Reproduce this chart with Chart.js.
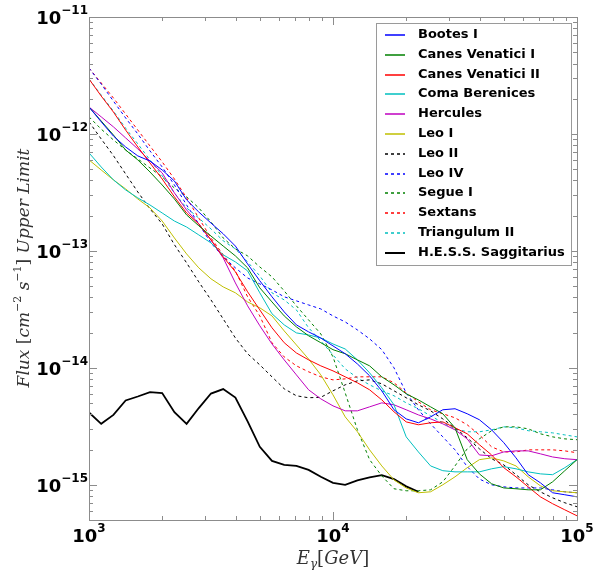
<!DOCTYPE html>
<html>
<head>
<meta charset="utf-8">
<script src="https://cdn.jsdelivr.net/npm/chart.js@4.4.0/dist/chart.umd.min.js"></script>
<style>
body { margin: 0; background: #fff; }
#wrap { width: 594px; height: 570px; }
</style>
</head>
<body>
<div id="wrap"><canvas id="fluxChart" width="594" height="570"></canvas></div>
<script>
// energy grid (GeV), 20 points per decade
const energies = [1000, 1122, 1259, 1413, 1585, 1778, 1995, 2239, 2512, 2818,
  3162, 3548, 3981, 4467, 5012, 5623, 6310, 7079, 7943, 8913,
  10000, 11220, 12589, 14125, 15849, 17783, 19953, 22387, 25119, 28184,
  31623, 35481, 39811, 44668, 50119, 56234, 63096, 70795, 79433, 89125, 100000];

const bootesI = [1.70e-12, 1.27e-12, 9.6e-13, 7.74e-13, 6.49e-13, 5.87e-13, 4.92e-13, 3.96e-13, 2.73e-13, 2.15e-13,
  1.73e-13, 1.40e-13, 1.10e-13, 7.74e-14, 5.55e-14, 4.05e-14, 3.01e-14, 2.33e-14, 2.03e-14, 1.80e-14,
  1.54e-14, 1.32e-14, 1.08e-14, 8.55e-15, 6.35e-15, 4.38e-15, 3.66e-15, 3.39e-15, 3.81e-15, 4.38e-15,
  4.47e-15, 4.05e-15, 3.60e-15, 2.95e-15, 2.29e-15, 1.70e-15, 1.22e-15, 1.04e-15, 8.55e-16, 8.22e-16, 7.89e-16];
const canesVenaticiI = [1.70e-12, 1.29e-12, 9.8e-13, 7.29e-13, 6.0e-13, 4.73e-13, 3.66e-13, 2.78e-13, 2.03e-13, 1.64e-13,
  1.34e-13, 1.10e-13, 9.06e-14, 7.16e-14, 4.83e-14, 3.66e-14, 2.78e-14, 2.24e-14, 1.88e-14, 1.64e-14,
  1.43e-14, 1.32e-14, 1.17e-14, 1.04e-14, 8.38e-15, 7.16e-15, 6.0e-15, 5.32e-15, 4.64e-15, 4.05e-15,
  3.07e-15, 1.64e-15, 1.24e-15, 1.02e-15, 9.4e-16, 9.25e-16, 9.06e-16, 9.06e-16, 1.06e-15, 1.32e-15, 1.64e-15];
const canesVenaticiII = [2.95e-12, 2.11e-12, 1.54e-12, 1.08e-12, 7.74e-13, 5.65e-13, 4.12e-13, 2.90e-13, 2.11e-13, 1.70e-13,
  1.24e-13, 8.89e-14, 6.62e-14, 4.47e-14, 3.13e-14, 2.20e-14, 1.64e-14, 1.34e-14, 1.17e-14, 1.04e-14,
  9.42e-15, 8.38e-15, 7.45e-15, 6.49e-15, 5.32e-15, 4.21e-15, 3.45e-15, 3.26e-15, 3.39e-15, 3.45e-15,
  3.07e-15, 2.73e-15, 2.20e-15, 1.80e-15, 1.40e-15, 1.17e-15, 9.6e-16, 7.89e-16, 6.89e-16, 6.11e-16, 5.43e-16];
const comaBerenices = [6.89e-13, 5.22e-13, 4.05e-13, 3.32e-13, 2.84e-13, 2.47e-13, 2.11e-13, 1.80e-13, 1.60e-13, 1.37e-13,
  1.17e-13, 9.25e-14, 8.05e-14, 6.75e-14, 4.38e-14, 2.90e-14, 2.33e-14, 1.99e-14, 1.91e-14, 1.80e-14,
  1.60e-14, 1.45e-14, 1.17e-14, 9.06e-15, 6.75e-15, 4.83e-15, 2.57e-15, 1.91e-15, 1.45e-15, 1.32e-15,
  1.29e-15, 1.29e-15, 1.29e-15, 1.37e-15, 1.43e-15, 1.37e-15, 1.29e-15, 1.24e-15, 1.22e-15, 1.40e-15, 1.64e-15];
const hercules = [1.70e-12, 1.40e-12, 1.15e-12, 9.25e-13, 7.45e-13, 5.87e-13, 4.64e-13, 3.13e-13, 2.24e-13, 1.70e-13,
  1.24e-13, 8.71e-14, 5.32e-14, 3.39e-14, 2.29e-14, 1.60e-14, 1.17e-14, 8.71e-15, 6.49e-15, 5.43e-15,
  4.73e-15, 4.29e-15, 4.29e-15, 4.64e-15, 5.02e-15, 4.83e-15, 4.38e-15, 3.96e-15, 3.66e-15, 3.32e-15,
  2.95e-15, 2.47e-15, 1.80e-15, 1.77e-15, 1.91e-15, 1.95e-15, 1.95e-15, 1.84e-15, 1.73e-15, 1.67e-15, 1.64e-15];
const leoI = [6.0e-13, 4.92e-13, 4.05e-13, 3.39e-13, 2.78e-13, 2.33e-13, 1.80e-13, 1.29e-13, 9.42e-14, 7.16e-14,
  5.77e-14, 4.92e-14, 4.38e-14, 3.66e-14, 3.26e-14, 2.78e-14, 2.07e-14, 1.57e-14, 1.19e-14, 8.71e-15,
  5.87e-15, 3.81e-15, 2.84e-15, 1.99e-15, 1.45e-15, 1.10e-15, 9.4e-16, 8.55e-16, 8.71e-16, 1.0e-15,
  1.17e-15, 1.40e-15, 1.64e-15, 1.70e-15, 1.60e-15, 1.45e-15, 1.17e-15, 9.8e-16, 8.89e-16, 8.71e-16, 8.55e-16];
const leoII = [1.27e-12, 9.06e-13, 6.53e-13, 4.55e-13, 3.19e-13, 2.29e-13, 1.70e-13, 1.13e-13, 7.9e-14, 5.43e-14,
  3.81e-14, 2.62e-14, 1.80e-14, 1.32e-14, 1.06e-14, 8.38e-15, 6.62e-15, 5.77e-15, 5.55e-15, 5.6e-15,
  6.36e-15, 7.16e-15, 7.74e-15, 7.89e-15, 7.3e-15, 6.36e-15, 5.55e-15, 4.83e-15, 4.29e-15, 3.66e-15,
  3.07e-15, 2.52e-15, 2.03e-15, 1.67e-15, 1.48e-15, 1.22e-15, 1.0e-15, 8.7e-16, 7.74e-16, 7.02e-16, 6.49e-16];
const leoIV = [3.66e-12, 2.67e-12, 1.91e-12, 1.37e-12, 1.0e-12, 7.16e-13, 5.22e-13, 3.66e-13, 2.47e-13, 1.70e-13,
  1.17e-13, 8.89e-14, 7.16e-14, 5.87e-14, 5.22e-14, 4.64e-14, 4.05e-14, 3.74e-14, 3.45e-14, 3.19e-14,
  2.78e-14, 2.47e-14, 2.11e-14, 1.77e-14, 1.43e-14, 1.0e-14, 6.11e-15, 4.38e-15, 3.32e-15, 2.57e-15,
  1.99e-15, 1.43e-15, 1.12e-15, 1.0e-15, 9.6e-16, 9.4e-16, 9.4e-16, 9.4e-16, 9.06e-16, 8.71e-16, 8.55e-16];
const segueI = [1.40e-12, 1.10e-12, 8.89e-13, 7.29e-13, 6.11e-13, 5.12e-13, 4.29e-13, 3.45e-13, 2.90e-13, 2.33e-13,
  1.77e-13, 1.29e-13, 1.04e-13, 9.06e-14, 7.29e-14, 6.0e-14, 4.55e-14, 3.39e-14, 2.57e-14, 1.95e-14,
  1.24e-14, 6.11e-15, 2.95e-15, 1.64e-15, 1.19e-15, 9.25e-16, 8.89e-16, 8.89e-16, 9.06e-16, 1.06e-15,
  1.45e-15, 2.03e-15, 2.47e-15, 2.90e-15, 3.13e-15, 3.13e-15, 3.01e-15, 2.73e-15, 2.57e-15, 2.47e-15, 2.43e-15];
const sextans = [3.66e-12, 2.73e-12, 2.03e-12, 1.48e-12, 1.08e-12, 7.89e-13, 5.77e-13, 4.12e-13, 2.84e-13, 1.91e-13,
  1.29e-13, 9.25e-14, 6.75e-14, 4.05e-14, 2.78e-14, 1.64e-14, 1.24e-14, 1.04e-14, 9.25e-15, 8.38e-15,
  7.89e-15, 8.05e-15, 8.38e-15, 8.38e-15, 8.38e-15, 7.45e-15, 6.11e-15, 5.12e-15, 4.38e-15, 4.05e-15,
  3.74e-15, 3.26e-15, 2.67e-15, 2.11e-15, 1.91e-15, 1.91e-15, 1.99e-15, 1.99e-15, 1.99e-15, 1.95e-15, 1.88e-15];
const triangulumII = [2.95e-12, 2.15e-12, 1.57e-12, 1.12e-12, 8.22e-13, 6.0e-13, 4.38e-13, 3.13e-13, 2.33e-13, 1.91e-13,
  1.54e-13, 1.22e-13, 1.04e-13, 8.05e-14, 6.11e-14, 4.38e-14, 3.81e-14, 3.13e-14, 2.20e-14, 1.70e-14,
  1.29e-14, 9.8e-15, 8.22e-15, 7.16e-15, 6.35e-15, 5.77e-15, 5.02e-15, 4.47e-15, 3.89e-15, 3.39e-15,
  3.01e-15, 2.84e-15, 2.84e-15, 2.95e-15, 3.13e-15, 3.07e-15, 2.90e-15, 2.84e-15, 2.78e-15, 2.67e-15, 2.57e-15];
// H.E.S.S. curve stops near 2.2e4 GeV
const hessSagittarius = [4.15e-15, 3.32e-15, 3.96e-15, 5.26e-15, 5.69e-15, 6.2e-15, 6.08e-15, 4.18e-15, 3.32e-15, 4.53e-15,
  6.03e-15, 6.58e-15, 5.57e-15, 3.48e-15, 2.11e-15, 1.60e-15, 1.48e-15, 1.45e-15, 1.34e-15, 1.17e-15,
  1.04e-15, 1.0e-15, 1.09e-15, 1.16e-15, 1.21e-15, 1.12e-15, 9.7e-16, 8.7e-16];

const seriesNames = ['Bootes I', 'Canes Venatici I', 'Canes Venatici II', 'Coma Berenices', 'Hercules', 'Leo I',
  'Leo II', 'Leo IV', 'Segue I', 'Sextans', 'Triangulum II', 'H.E.S.S. Saggitarius'];
const seriesValues = [bootesI, canesVenaticiI, canesVenaticiII, comaBerenices, hercules, leoI,
  leoII, leoIV, segueI, sextans, triangulumII, hessSagittarius];
const seriesColors = ['#0000ff', '#008000', '#ff0000', '#00bfbf', '#bf00bf', '#bfbf00',
  '#000000', '#0000ff', '#008000', '#ff0000', '#00bfbf', '#000000'];
const seriesDashed = [false, false, false, false, false, false, true, true, true, true, true, false];

const xTicks = [1e3, 1e4, 1e5];
const xTickExp = ['3', '4', '5'];
const yTicks = [1e-15, 1e-14, 1e-13, 1e-12, 1e-11];
const yTickExp = ['-15', '-14', '-13', '-12', '-11'];

const datasets = seriesNames.map((name, i) => ({
    label: name,
    data: seriesValues[i].map((v, j) => ({ x: energies[j], y: v })),
    borderColor: seriesColors[i],
    borderWidth: i === 11 ? 1.8 : 1,
    borderDash: seriesDashed[i] ? [3, 3] : [],
    pointRadius: 0,
    fill: false,
    tension: 0
}));

const frameColor = '#8c8c8c';

function drawPowerLabel(ctx, exp, x, y, align) {
    ctx.font = 'bold 18px "DejaVu Sans"';
    const wBase = ctx.measureText('10').width;
    ctx.font = 'bold 12px "DejaVu Sans"';
    const wExp = ctx.measureText(exp).width;
    let left = x;
    if (align === 'right') left = x - wBase - wExp;
    if (align === 'center') left = x - (wBase + wExp) / 2;
    ctx.textAlign = 'left';
    ctx.textBaseline = 'alphabetic';
    ctx.font = 'bold 18px "DejaVu Sans"';
    ctx.fillText('10', left, y);
    ctx.font = 'bold 12px "DejaVu Sans"';
    ctx.fillText(exp, left + wBase, y - 10);
}

const decorations = {
    id: 'decorations',
    afterDraw(chart) {
        const ctx = chart.ctx;
        const a = chart.chartArea;
        const xs = chart.scales.x, ys = chart.scales.y;
        ctx.save();

        // frame
        ctx.strokeStyle = frameColor;
        ctx.lineWidth = 1;
        ctx.strokeRect(Math.round(a.left) + 0.5, Math.round(a.top) + 0.5,
            Math.round(a.right - a.left), Math.round(a.bottom - a.top));

        // ticks, pointing inward on every side
        ctx.beginPath();
        for (let d = 3; d <= 5; d++) {
            for (let m = 1; m <= 9; m++) {
                const v = m * Math.pow(10, d);
                if (v < xs.min || v > xs.max) continue;
                const px = Math.round(xs.getPixelForValue(v)) + 0.5;
                const len = m === 1 ? 8 : 4;
                ctx.moveTo(px, a.bottom); ctx.lineTo(px, a.bottom - len);
                ctx.moveTo(px, a.top); ctx.lineTo(px, a.top + len);
            }
        }
        for (let d = -16; d <= -11; d++) {
            for (let m = 1; m <= 9; m++) {
                const v = m * Math.pow(10, d);
                if (v < ys.min * 0.999 || v > ys.max * 1.001) continue;
                const py = Math.round(ys.getPixelForValue(v)) + 0.5;
                const len = m === 1 ? 8 : 4;
                ctx.moveTo(a.left, py); ctx.lineTo(a.left + len, py);
                ctx.moveTo(a.right, py); ctx.lineTo(a.right - len, py);
            }
        }
        ctx.stroke();

        // tick labels
        ctx.fillStyle = '#000';
        xTicks.forEach((v, i) => {
            drawPowerLabel(ctx, xTickExp[i], xs.getPixelForValue(v), a.bottom + 22, 'center');
        });
        yTicks.forEach((v, i) => {
            drawPowerLabel(ctx, yTickExp[i].replace('-', '\u2212'), 88, ys.getPixelForValue(v) + 7, 'right');
        });

        // x axis title: E_gamma [GeV]
        ctx.fillStyle = '#333';
        ctx.textBaseline = 'alphabetic';
        ctx.textAlign = 'left';
        const xt = [
            { t: 'E', f: 'italic 18px "DejaVu Serif"', dy: 0 },
            { t: '\u03b3', f: 'italic 12px "DejaVu Serif"', dy: 4 },
            { t: '[', f: '18px "DejaVu Serif"', dy: 0 },
            { t: 'GeV', f: 'italic 18px "DejaVu Serif"', dy: 0 },
            { t: ']', f: '18px "DejaVu Serif"', dy: 0 }
        ];
        let tw = 0;
        xt.forEach(p => { ctx.font = p.f; tw += ctx.measureText(p.t).width; });
        let cx = xs.getPixelForValue(1e4) - tw / 2;
        xt.forEach(p => { ctx.font = p.f; ctx.fillText(p.t, cx, 564 + p.dy); cx += ctx.measureText(p.t).width; });

        // y axis title
        const yt = [
            { t: 'Flux ', f: 'italic 17px "DejaVu Serif"', dy: 0 },
            { t: '[', f: '17px "DejaVu Serif"', dy: 0 },
            { t: 'cm', f: 'italic 17px "DejaVu Serif"', dy: 0 },
            { t: '\u22122', f: '11px "DejaVu Serif"', dy: -8 },
            { t: ' s', f: 'italic 17px "DejaVu Serif"', dy: 0 },
            { t: '\u22121', f: '11px "DejaVu Serif"', dy: -8 },
            { t: '] ', f: '17px "DejaVu Serif"', dy: 0 },
            { t: 'Upper Limit', f: 'italic 17px "DejaVu Serif"', dy: 0 }
        ];
        tw = 0;
        yt.forEach(p => { ctx.font = p.f; tw += ctx.measureText(p.t).width; });
        ctx.save();
        ctx.translate(29, 268);
        ctx.rotate(-Math.PI / 2);
        cx = -tw / 2;
        yt.forEach(p => { ctx.font = p.f; ctx.fillText(p.t, cx, p.dy); cx += ctx.measureText(p.t).width; });
        ctx.restore();

        // legend
        const lx = 376, ly = 23, lw = 195, lh = 242;
        ctx.fillStyle = '#fff';
        ctx.fillRect(lx, ly, lw, lh);
        ctx.strokeStyle = '#9a9a9a';
        ctx.lineWidth = 1;
        ctx.strokeRect(lx + 0.5, ly + 0.5, lw, lh);
        ctx.font = 'bold 13px "DejaVu Sans"';
        ctx.textBaseline = 'middle';
        chart.data.datasets.forEach((ds, i) => {
            const y = Math.round(ly + 12 + i * 19.8);
            ctx.strokeStyle = ds.borderColor;
            ctx.lineWidth = ds.label.startsWith('H.E.S.S') ? 2 : 1.5;
            ctx.setLineDash(ds.borderDash);
            ctx.beginPath();
            ctx.moveTo(385, y); ctx.lineTo(405, y);
            ctx.stroke();
            ctx.setLineDash([]);
            ctx.fillStyle = '#000';
            ctx.fillText(ds.label, 418, y);
        });
        ctx.restore();
    }
};

const ctx = document.getElementById('fluxChart').getContext('2d');
const fluxChart = new Chart(ctx, {
    type: 'line',
    data: { datasets: datasets },
    options: {
        responsive: false,
        animation: false,
        layout: { padding: { left: 89, right: 17, top: 17, bottom: 50 } },
        plugins: { legend: { display: false }, tooltip: { enabled: false } },
        scales: {
            x: { type: 'logarithmic', min: 1e3, max: 1e5, display: false },
            y: { type: 'logarithmic', min: 5e-16, max: 1e-11, display: false }
        }
    },
    plugins: [decorations]
});
</script>
</body>
</html>
